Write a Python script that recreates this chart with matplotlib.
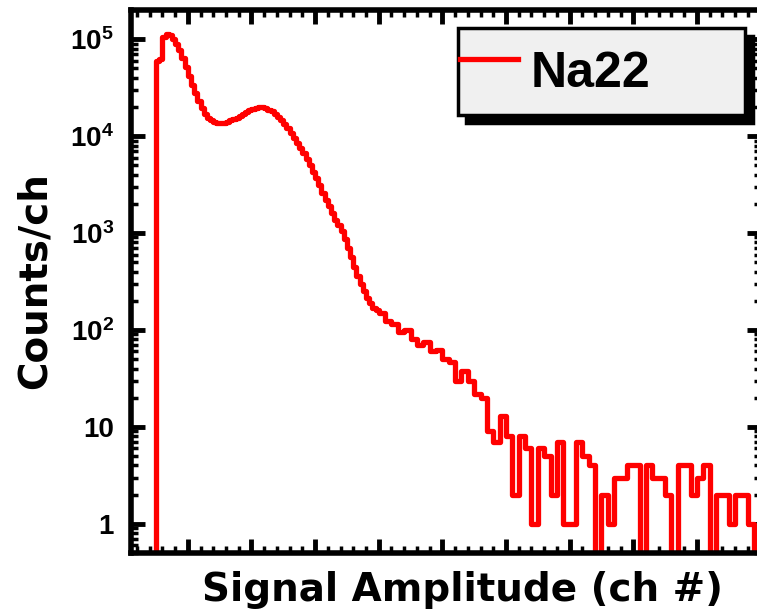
import matplotlib
matplotlib.use('Agg')
import matplotlib.pyplot as plt
from matplotlib.ticker import MultipleLocator, LogLocator, NullFormatter
import numpy as np

# fine bins (5 ch) over the smooth part of the spectrum, 50-400 ch
fine_start = 50
fine_counts = [
    6.0e4, 6.2e4, 1.05e5, 1.12e5, 1.1e5, 1.0e5, 9.0e4, 7.8e4, 6.4e4, 5.2e4,     # 50-95
    4.2e4, 3.4e4, 2.8e4, 2.3e4, 1.95e4, 1.7e4, 1.55e4, 1.45e4, 1.4e4, 1.37e4,   # 100-145
    1.36e4, 1.37e4, 1.4e4, 1.45e4, 1.5e4, 1.55e4, 1.62e4, 1.7e4, 1.78e4, 1.85e4,  # 150-195
    1.92e4, 1.97e4, 2.0e4, 2.0e4, 1.95e4, 1.88e4, 1.8e4, 1.7e4, 1.58e4, 1.45e4,  # 200-245
    1.32e4, 1.2e4, 1.07e4, 9.5e3, 8.5e3, 7.5e3, 6.7e3, 5.8e3, 5.0e3, 4.3e3,      # 250-295
    3.7e3, 3.1e3, 2.6e3, 2.2e3, 1.9e3, 1.6e3, 1.35e3, 1.2e3, 1.05e3, 870,        # 300-345
    700, 570, 450, 360, 300, 250, 215, 190, 170, 160,                           # 350-395
]
# coarse bins (10 ch) over the tail, 400-1000 ch
coarse_start = 400
coarse_counts = [
    150, 125, 115, 95, 100, 80, 70, 75, 60, 62,      # 400-490
    50, 47, 30, 38, 30, 22, 20, 9, 7, 13,            # 500-590
    8, 2, 8, 6, 1, 6, 5, 2, 7, 1,                    # 600-690
    1, 7, 5, 4, 0, 2, 1, 3, 3, 4,                    # 700-790
    4, 0, 4, 3, 3, 2, 0, 4, 4, 2,                    # 800-890
    3, 4, 0, 2, 2, 1, 2, 2, 1, 0,                    # 900-990
]

edges = np.concatenate([fine_start + 5 * np.arange(len(fine_counts)),
                        coarse_start + 10 * np.arange(len(coarse_counts) + 1)])
counts = fine_counts + coarse_counts

ytick_vals = [1, 10, 1e2, 1e3, 1e4, 1e5]
ytick_labels = ['1', '10', r'$\mathbf{10^2}$', r'$\mathbf{10^3}$',
                r'$\mathbf{10^4}$', r'$\mathbf{10^5}$']

plt.rcParams['mathtext.fontset'] = 'custom'
plt.rcParams['mathtext.bf'] = 'Liberation Sans:bold'
plt.rcParams['mathtext.rm'] = 'Liberation Sans:bold'

fig = plt.figure(figsize=(7.57, 6.14), dpi=100)
ax = fig.add_axes([130.5 / 757, 61 / 614, 630 / 757, 543 / 614])

# leading vertical rise from the bottom at the first edge
x = np.concatenate([[fine_start], edges])
y = np.concatenate([[0], counts, [counts[-1]]])
ax.step(x, y, where='post', color='#ff0000', lw=3.8, label='Na22')

ax.set_yscale('log', nonpositive='clip')
ax.set_ylim(0.5, 2.0e5)
ax.set_xlim(10, 1000)

ax.set_yticks(ytick_vals, ytick_labels)
ax.yaxis.set_minor_locator(LogLocator(base=10, subs=np.arange(2, 10)))
ax.yaxis.set_minor_formatter(NullFormatter())
ax.xaxis.set_major_locator(MultipleLocator(100))
ax.xaxis.set_minor_locator(MultipleLocator(20))
ax.set_xticklabels([])

for s in ax.spines.values():
    s.set_linewidth(4)
ax.tick_params(which='both', direction='in', top=True, right=True)
ax.tick_params(which='major', length=10, width=3.5, pad=12)
ax.tick_params(which='minor', length=5, width=2.5)
for lab in ax.get_yticklabels():
    lab.set_fontfamily('Liberation Sans')
    lab.set_fontweight('bold')
    lab.set_fontsize(20)

fig.text(35 / 757, 1 - 281 / 614, 'Counts/ch', rotation=90, ha='center', va='center',
         fontsize=28, fontweight='bold', fontfamily='DejaVu Sans')
fig.text(462 / 757, 1 - 590 / 614, 'Signal Amplitude (ch #)', ha='center', va='center',
         fontsize=28, fontweight='bold', fontfamily='DejaVu Sans')

leg = ax.legend(loc='upper left', bbox_to_anchor=(458 / 757, 1 - 28 / 614, 287 / 757, 0),
                bbox_transform=fig.transFigure, mode='expand', borderaxespad=0,
                borderpad=0.05, handleheight=2.15, handlelength=1.15, handletextpad=0.25,
                fancybox=False, edgecolor='black', facecolor='#f0f0f0', framealpha=1,
                shadow={'ox': 6, 'oy': -6, 'color': 'black', 'alpha': 1},
                prop={'family': 'Liberation Sans', 'weight': 'bold', 'size': 36})
leg.get_frame().set_linewidth(2.5)

fig.savefig('out.png', dpi=100)
